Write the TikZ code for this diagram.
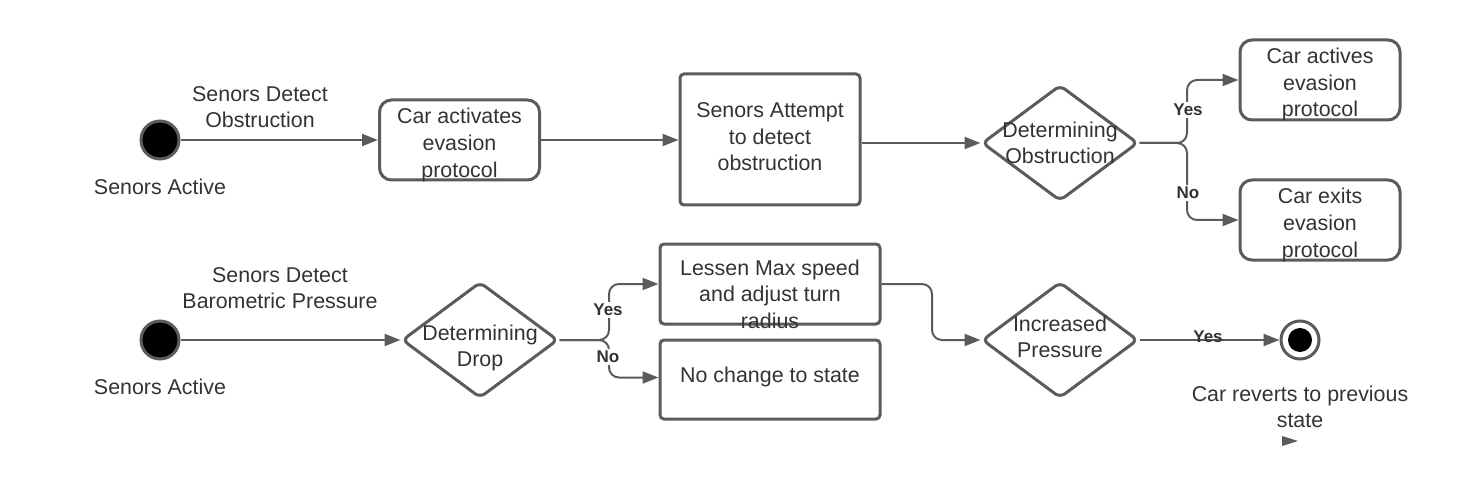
\documentclass[tikz,border=0pt]{standalone}
\usepackage{fontspec}
\setmainfont{Liberation Sans}
\usetikzlibrary{shapes.geometric,arrows.meta}
\definecolor{ln}{HTML}{5B5B5B}
\definecolor{tx}{HTML}{333333}
\begin{document}
\begin{tikzpicture}[x=0.5pt,y=-0.5pt, font=\fontsize{10.7}{13.3}\selectfont, text=tx,
 box/.style={draw=ln, line width=1.5pt, rounded corners=6pt, fill=white, inner sep=0pt},
 sbox/.style={box, rounded corners=2pt},
 dia/.style={diamond, draw=ln, line width=1.5pt, rounded corners=3pt, minimum width=78pt, minimum height=58pt, inner sep=0pt, fill=white},
 start/.style={circle, fill=black, draw=ln, line width=1.5pt, minimum size=19pt, inner sep=0pt},
 arr/.style={draw=ln, line width=1pt, -{Triangle[length=8pt,width=6pt]}},
 lbl/.style={align=center, inner sep=0pt},
 yn/.style={font=\fontsize{8.5}{10}\bfseries\selectfont, fill=white, inner sep=1pt}]
\useasboundingbox (0,0) rectangle (1460,486);
% row 1
\node[start] (s1) at (160,140) {};
\node[lbl] (s1t) at (160,187) {Senors Active};
\node[lbl] (e1t) at (260,107) {Senors Detect\\Obstruction};
\node[box, minimum width=80pt, minimum height=40pt] (b1) at (459.5,140) {};
\node[lbl] (b1t) at (459.5,145) {Car activates\\evasion\\protocol};
\node[sbox, minimum width=90pt, minimum height=65.5pt] (b2) at (770,139.5) {};
\node[lbl] (b2t) at (770,137) {Senors Attempt\\to detect\\obstruction};
\node[dia] (d1) at (1060,143) {};
\node[lbl] (d1t) at (1060,143) {Determining\\Obstruction};
\node[box, minimum width=80pt, minimum height=40pt] (b3) at (1320,80) {};
\node[lbl] (b3t) at (1320,84.5) {Car actives\\evasion\\protocol};
\node[box, minimum width=80pt, minimum height=40pt] (b4) at (1320,220) {};
\node[lbl] (b4t) at (1320,225) {Car exits\\evasion\\protocol};
\coordinate (j1) at (1187,143);
\draw[arr] (s1) -- (b1);
\draw[arr] (b1.east) -- (b2.west |- b1.east);
\draw[arr] (b2.east |- d1.west) -- (d1.west);
\draw[arr, rounded corners=5pt] (d1.east) -- (j1) |- (b3.west);
\draw[arr, rounded corners=5pt] (d1.east) -- (j1) |- (b4.west);
\node[yn] (y1) at (1188,110) {Yes};
\node[yn] (n1) at (1188,193) {No};
% row 2
\node[start] (s2) at (160,340) {};
\node[lbl] (s2t) at (160,387) {Senors Active};
\node[lbl] (e2t) at (280,288) {Senors Detect\\Barometric Pressure};
\node[dia] (d2) at (480,340) {};
\node[lbl] (d2t) at (480,348) {Determining\\Drop};
\node[sbox, minimum width=110pt, minimum height=40pt] (b5) at (770,284) {};
\node[lbl] (b5t) at (770,294) {Lessen Max speed\\and adjust turn\\radius};
\node[sbox, minimum width=110pt, minimum height=39.5pt] (b6) at (770,379.5) {};
\node[lbl] (b6t) at (770,377) {No change to state};
\node[dia] (d3) at (1060,340) {};
\node[lbl] (d3t) at (1060,337) {Increased\\Pressure};
\node[circle, draw=ln, line width=1.5pt, fill=white, minimum size=19pt, inner sep=0pt] (fin) at (1300,340) {};
\node[circle, fill=black, minimum size=12pt, inner sep=0pt] (fini) at (fin.center) {};
\node[lbl] (fint) at (1300,407) {Car reverts to previous\\state};
\coordinate (j2) at (609,340);
\coordinate (j3) at (932,340);
\draw[arr] (s2) -- (d2.west);
\draw[arr, rounded corners=5pt] (d2.east) -- (j2) |- (b5.west);
\draw[arr, rounded corners=5pt] (d2.east) -- (j2) |- ([yshift=1pt]b6.west);
\node[yn] (y2) at (608,310) {Yes};
\node[yn] (n2) at (608,357) {No};
\draw[arr, rounded corners=5pt] (b5.east) -| (j3) -- (d3.west);
\draw[arr] (d3.east) -- (fin.west);
\node[font=\fontsize{8.5}{10}\bfseries\selectfont, inner sep=0pt] (y3) at (1208,337) {Yes};
\fill[ln] (1282,436) -- (1298,441) -- (1282,446) -- cycle;
\end{tikzpicture}
\end{document}
